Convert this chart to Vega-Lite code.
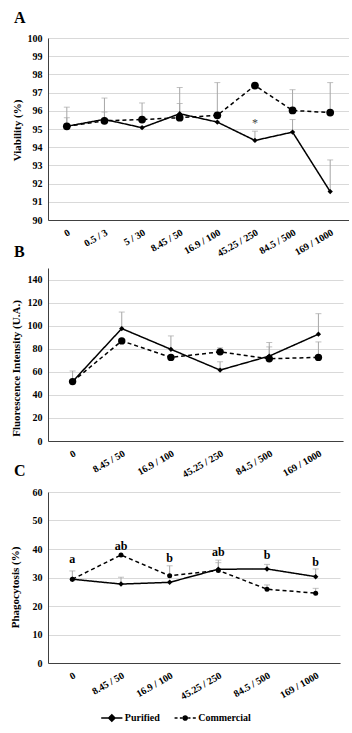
{
  "$schema": "https://vega.github.io/schema/vega-lite/v6.json",
  "padding": {"left": 9, "top": 10, "right": 0, "bottom": 0},
  "bounds": "flush",
  "spacing": 48,
  "resolve": {"scale": {"x": "independent", "y": "independent"}},
  "config": {
    "font": "Liberation Serif",
    "view": {"stroke": null},
    "axis": {
      "labelFont": "Liberation Serif", "labelFontWeight": "bold", "labelFontSize": 10, "labelColor": "#000",
      "titleFont": "Liberation Serif", "titleFontWeight": "bold", "titleFontSize": 11, "titleColor": "#000",
      "domainColor": "#404040", "domainWidth": 1, "tickSize": 0, "gridColor": "#d9d9d9", "gridWidth": 1
    },
    "axisX": {"grid": false, "labelAngle": -30, "labelPadding": 7, "title": null, "labelAlign": "right", "labelBaseline": "top"},
    "axisY": {"labelPadding": 6, "grid": true, "labelOverlap": false, "labelFlush": false},
    "title": {"font": "Liberation Serif", "fontSize": 16, "fontWeight": "bold", "anchor": "start", "frame": "group", "color": "#000"}
  },
  "datasets": {
    "A": [
      {"cat": "0", "series": "Purified", "value": 95.15, "upper": 95.62},
      {"cat": "0", "series": "Commercial", "value": 95.15, "upper": 96.2},
      {"cat": "0.5 / 3", "series": "Purified", "value": 95.53, "upper": 95.93},
      {"cat": "0.5 / 3", "series": "Commercial", "value": 95.45, "upper": 96.7},
      {"cat": "5 / 30", "series": "Purified", "value": 95.07, "upper": null},
      {"cat": "5 / 30", "series": "Commercial", "value": 95.52, "upper": 96.43},
      {"cat": "8.45 / 50", "series": "Purified", "value": 95.84, "upper": 96.4},
      {"cat": "8.45 / 50", "series": "Commercial", "value": 95.62, "upper": 97.28},
      {"cat": "16.9 / 100", "series": "Purified", "value": 95.38, "upper": null},
      {"cat": "16.9 / 100", "series": "Commercial", "value": 95.75, "upper": 97.55},
      {"cat": "45.25 / 250", "series": "Purified", "value": 94.37, "upper": 94.88},
      {"cat": "45.25 / 250", "series": "Commercial", "value": 97.39, "upper": null},
      {"cat": "84.5 / 500", "series": "Purified", "value": 94.83, "upper": 95.52},
      {"cat": "84.5 / 500", "series": "Commercial", "value": 96.02, "upper": 97.16},
      {"cat": "169 / 1000", "series": "Purified", "value": 91.56, "upper": 93.3},
      {"cat": "169 / 1000", "series": "Commercial", "value": 95.9, "upper": 97.55}
    ],
    "Astar": [{"cat": "45.25 / 250", "label": "*", "value": 95.5}],
    "B": [
      {"cat": "0", "series": "Purified", "value": 51.5, "upper": 60.7},
      {"cat": "0", "series": "Commercial", "value": 51.5, "upper": null},
      {"cat": "8.45 / 50", "series": "Purified", "value": 97.5, "upper": 111.8},
      {"cat": "8.45 / 50", "series": "Commercial", "value": 86.8, "upper": null},
      {"cat": "16.9 / 100", "series": "Purified", "value": 79.5, "upper": 91.1},
      {"cat": "16.9 / 100", "series": "Commercial", "value": 72.5, "upper": null},
      {"cat": "45.25 / 250", "series": "Purified", "value": 61.5, "upper": 68.7},
      {"cat": "45.25 / 250", "series": "Commercial", "value": 77.3, "upper": 80.8},
      {"cat": "84.5 / 500", "series": "Purified", "value": 73.6, "upper": 85.4},
      {"cat": "84.5 / 500", "series": "Commercial", "value": 71.3, "upper": 81.6},
      {"cat": "169 / 1000", "series": "Purified", "value": 92.6, "upper": 110.4},
      {"cat": "169 / 1000", "series": "Commercial", "value": 72.5, "upper": 85.9}
    ],
    "C": [
      {"cat": "0", "series": "Purified", "value": 29.4, "upper": 32.3},
      {"cat": "0", "series": "Commercial", "value": 29.4, "upper": null},
      {"cat": "8.45 / 50", "series": "Purified", "value": 27.7, "upper": 30.1},
      {"cat": "8.45 / 50", "series": "Commercial", "value": 37.9, "upper": null},
      {"cat": "16.9 / 100", "series": "Purified", "value": 28.3, "upper": null},
      {"cat": "16.9 / 100", "series": "Commercial", "value": 30.6, "upper": 34.1},
      {"cat": "45.25 / 250", "series": "Purified", "value": 32.9, "upper": 36.1},
      {"cat": "45.25 / 250", "series": "Commercial", "value": 32.5, "upper": 35.2},
      {"cat": "84.5 / 500", "series": "Purified", "value": 33.0, "upper": 34.6},
      {"cat": "84.5 / 500", "series": "Commercial", "value": 25.9, "upper": 27.4},
      {"cat": "169 / 1000", "series": "Purified", "value": 30.3, "upper": 33.0},
      {"cat": "169 / 1000", "series": "Commercial", "value": 24.5, "upper": 26.2}
    ],
    "Cletters": [
      {"cat": "0", "label": "a", "value": 36.4},
      {"cat": "8.45 / 50", "label": "ab", "value": 41.0},
      {"cat": "16.9 / 100", "label": "b", "value": 37.0},
      {"cat": "45.25 / 250", "label": "ab", "value": 38.9},
      {"cat": "84.5 / 500", "label": "b", "value": 37.9},
      {"cat": "169 / 1000", "label": "b", "value": 35.6}
    ],
    "legendItems": [{"legend": "Purified"}, {"legend": "Commercial"}]
  },
  "vconcat": [
    {
      "width": 301, "height": 182,
      "title": {"text": "A", "dx": -34, "offset": 7},
      "encoding": {
        "x": {"field": "cat", "type": "ordinal", "sort": ["0", "0.5 / 3", "5 / 30", "8.45 / 50", "16.9 / 100", "45.25 / 250", "84.5 / 500", "169 / 1000"], "axis": {"title": null}},
        "y": {"field": "value", "type": "quantitative", "scale": {"domain": [90, 100], "nice": false, "zero": false},
          "axis": {"title": "Viability (%)", "values": [90, 91, 92, 93, 94, 95, 96, 97, 98, 99, 100], "grid": true, "gridColor": "#d9d9d9", "labelOverlap": false, "titleX": -31, "titleY": 92, "titleAngle": -90, "titleAlign": "center", "titleBaseline": "middle"}}
      },
      "layer": [
        {
          "data": {"name": "A"},
          "transform": [{"filter": "datum.upper != null"}],
          "mark": {"type": "rule", "color": "#a6a6a6", "strokeWidth": 1},
          "encoding": {"y2": {"field": "upper"}}
        },
        {
          "data": {"name": "A"},
          "transform": [{"filter": "datum.upper != null"}],
          "mark": {"type": "tick", "color": "#a6a6a6", "thickness": 1, "size": 6},
          "encoding": {"y": {"field": "upper", "type": "quantitative"}}
        },
        {
          "data": {"name": "A"},
          "mark": {"type": "line", "strokeWidth": 1.5, "color": "#000"},
          "encoding": {
            "strokeDash": {"field": "series", "type": "nominal", "scale": {"domain": ["Purified", "Commercial"], "range": [[1, 0], [4, 3]]}, "legend": null}
          }
        },
        {
          "data": {"name": "A"},
          "transform": [{"filter": "datum.series == 'Purified'"}],
          "mark": {"type": "point", "shape": "diamond", "filled": true, "opacity": 1, "color": "#000", "size": 28}
        },
        {
          "data": {"name": "A"},
          "transform": [{"filter": "datum.series == 'Commercial'"}],
          "mark": {"type": "point", "shape": "circle", "filled": true, "opacity": 1, "color": "#000", "size": 60}
        },
        {
          "data": {"name": "Astar"},
          "mark": {"type": "text", "fontSize": 12, "font": "Liberation Serif", "baseline": "middle", "dy": 3, "color": "#444"},
          "encoding": {"text": {"field": "label"}}
        }
      ]
    },
    {
      "bounds": "flush",
      "spacing": 51,
      "resolve": {"scale": {"x": "independent", "y": "independent"}},
      "vconcat": [
        {
          "width": 295, "height": 173,
          "title": {"text": "B", "dx": -34, "offset": 8},
          "encoding": {
            "x": {"field": "cat", "type": "ordinal", "sort": ["0", "8.45 / 50", "16.9 / 100", "45.25 / 250", "84.5 / 500", "169 / 1000"], "axis": {"title": null}},
            "y": {"field": "value", "type": "quantitative", "scale": {"domain": [0, 150], "nice": false},
              "axis": {"title": "Fluorescence Intensity (U.A.)", "values": [0, 20, 40, 60, 80, 100, 120, 140], "grid": true, "gridColor": "#d9d9d9", "labelOverlap": false, "titleX": -32, "titleY": 100, "titleAngle": -90, "titleAlign": "center", "titleBaseline": "middle"}}
          },
          "layer": [
            {
              "data": {"name": "B"},
              "transform": [{"filter": "datum.upper != null"}],
              "mark": {"type": "rule", "color": "#a6a6a6", "strokeWidth": 1},
              "encoding": {"y2": {"field": "upper"}}
            },
            {
              "data": {"name": "B"},
              "transform": [{"filter": "datum.upper != null"}],
              "mark": {"type": "tick", "color": "#a6a6a6", "thickness": 1, "size": 6},
              "encoding": {"y": {"field": "upper", "type": "quantitative"}}
            },
            {
              "data": {"name": "B"},
              "mark": {"type": "line", "strokeWidth": 1.5, "color": "#000"},
              "encoding": {
                "strokeDash": {"field": "series", "type": "nominal", "scale": {"domain": ["Purified", "Commercial"], "range": [[1, 0], [4, 3]]}, "legend": null}
              }
            },
            {
              "data": {"name": "B"},
              "transform": [{"filter": "datum.series == 'Purified'"}],
              "mark": {"type": "point", "shape": "diamond", "filled": true, "opacity": 1, "color": "#000", "size": 28}
            },
            {
              "data": {"name": "B"},
              "transform": [{"filter": "datum.series == 'Commercial'"}],
              "mark": {"type": "point", "shape": "circle", "filled": true, "opacity": 1, "color": "#000", "size": 55}
            }
          ]
        },
        {
          "width": 292, "height": 171,
          "title": {"text": "C", "dx": -34, "offset": 8},
          "encoding": {
            "x": {"field": "cat", "type": "ordinal", "sort": ["0", "8.45 / 50", "16.9 / 100", "45.25 / 250", "84.5 / 500", "169 / 1000"], "axis": {"title": null}},
            "y": {"field": "value", "type": "quantitative", "scale": {"domain": [0, 60], "nice": false},
              "axis": {"title": "Phagocytosis (%)", "values": [0, 10, 20, 30, 40, 50, 60], "grid": true, "gridColor": "#d9d9d9", "labelOverlap": false, "titleX": -33, "titleY": 95, "titleAngle": -90, "titleAlign": "center", "titleBaseline": "middle"}}
          },
          "layer": [
            {
              "data": {"name": "C"},
              "transform": [{"filter": "datum.upper != null"}],
              "mark": {"type": "rule", "color": "#a6a6a6", "strokeWidth": 1},
              "encoding": {"y2": {"field": "upper"}}
            },
            {
              "data": {"name": "C"},
              "transform": [{"filter": "datum.upper != null"}],
              "mark": {"type": "tick", "color": "#a6a6a6", "thickness": 1, "size": 6},
              "encoding": {"y": {"field": "upper", "type": "quantitative"}}
            },
            {
              "data": {"name": "C"},
              "mark": {"type": "line", "strokeWidth": 1.5, "color": "#000"},
              "encoding": {
                "strokeDash": {"field": "series", "type": "nominal", "scale": {"domain": ["Purified", "Commercial"], "range": [[1, 0], [4, 3]]}, "legend": null}
              }
            },
            {
              "data": {"name": "C"},
              "transform": [{"filter": "datum.series == 'Purified'"}],
              "mark": {"type": "point", "shape": "diamond", "filled": true, "opacity": 1, "color": "#000", "size": 30}
            },
            {
              "data": {"name": "C"},
              "transform": [{"filter": "datum.series == 'Commercial'"}],
              "mark": {"type": "point", "shape": "circle", "filled": true, "opacity": 1, "color": "#000", "size": 25}
            },
            {
              "data": {"name": "Cletters"},
              "mark": {"type": "text", "fontSize": 12, "fontWeight": "bold", "font": "Liberation Serif", "baseline": "middle", "color": "#000"},
              "encoding": {"text": {"field": "label"}}
            }
          ]
        },
        {
          "width": 201, "height": 8,
          "data": {"name": "legendItems"},
          "encoding": {
            "x": {"field": "legend", "type": "nominal", "sort": ["Purified", "Commercial"], "scale": {"type": "point", "padding": 0.87}, "axis": null}
          },
          "layer": [
            {
              "mark": {"type": "point", "filled": true, "fill": "#000", "stroke": "#000", "strokeWidth": 1.5, "opacity": 1, "size": 450},
              "encoding": {
                "shape": {"field": "legend", "type": "nominal", "scale": {"domain": ["Purified", "Commercial"], "range": ["M-1,0L1,0M-0.3,0L0,-0.3L0.3,0L0,0.3Z", "M-1,0L-0.72,0M-0.5,0L-0.28,0M0.28,0L0.5,0M0.72,0L1,0M-0.2,0A0.2,0.2 0 1,0 0.2,0A0.2,0.2 0 1,0 -0.2,0Z"]}, "legend": null}
              }
            },
            {
              "mark": {"type": "text", "align": "left", "baseline": "middle", "dx": 13, "font": "Liberation Serif", "fontWeight": "bold", "fontSize": 10, "color": "#000"},
              "encoding": {"text": {"field": "legend"}}
            }
          ]
        }
      ]
    }
  ]
}
